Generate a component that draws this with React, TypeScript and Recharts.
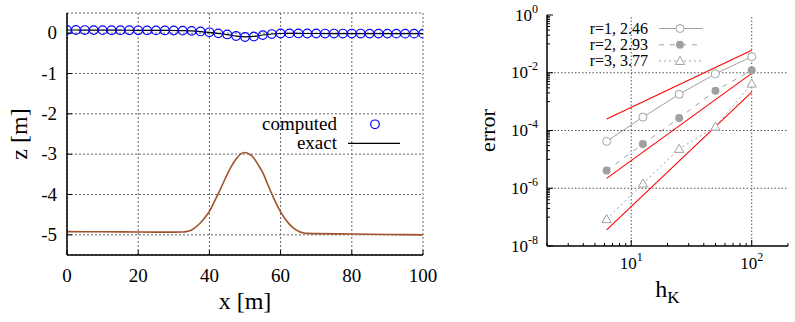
import React from "react";
import {
  ComposedChart,
  Line,
  XAxis,
  YAxis,
  CartesianGrid,
  ReferenceLine,
  Legend,
  Label,
} from "recharts";

const FONT = '"Liberation Serif", "DejaVu Serif", serif';

// ---- left panel: free surface (computed / exact) and the bed over the bump
const surfX = [
  0, 2.5, 5, 7.5, 10, 12.5, 15, 17.5, 20, 22.5, 25, 27.5, 30, 32.5, 35, 37.5,
  40, 42.5, 45, 47.5, 50, 52.5, 55, 57.5, 60, 62.5, 65, 67.5, 70, 72.5, 75,
  77.5, 80, 82.5, 85, 87.5, 90, 92.5, 95, 97.5, 100,
];
const surfComputed = [
  0.08, 0.078, 0.077, 0.076, 0.075, 0.074, 0.073, 0.072, 0.071, 0.07, 0.069,
  0.068, 0.066, 0.063, 0.057, 0.042, 0.022, -0.005, -0.032, -0.07, -0.095,
  -0.082, -0.048, -0.022, -0.008, -0.006, -0.007, -0.008, -0.008, -0.009,
  -0.009, -0.01, -0.01, -0.01, -0.011, -0.011, -0.011, -0.012, -0.012, -0.012,
  -0.012,
];
const surfExact = [
  0.079, 0.078, 0.077, 0.076, 0.075, 0.074, 0.073, 0.072, 0.071, 0.07, 0.069,
  0.068, 0.066, 0.062, 0.055, 0.04, 0.02, -0.007, -0.035, -0.072, -0.092,
  -0.08, -0.046, -0.02, -0.008, -0.006, -0.007, -0.008, -0.008, -0.009,
  -0.009, -0.01, -0.01, -0.01, -0.011, -0.011, -0.011, -0.012, -0.012, -0.012,
  -0.012,
];
const bedX = [
  0, 10, 20, 30, 32.5, 33.75, 35, 36.25, 37.5, 38.75, 40, 41.25, 42.5, 43.75,
  45, 46.25, 47.5, 48.75, 50, 51.25, 52.5, 53.75, 55, 56.25, 57.5, 58.75, 60,
  61.25, 62.5, 63.75, 65, 66.25, 67.5, 70, 80, 90, 100,
];
const bedZ = [
  -4.92, -4.925, -4.93, -4.933, -4.93, -4.915, -4.88, -4.8, -4.7, -4.57, -4.42,
  -4.2, -3.98, -3.74, -3.5, -3.29, -3.12, -3.0, -2.96, -3.0, -3.1, -3.27,
  -3.46, -3.72, -3.98, -4.22, -4.43, -4.6, -4.74, -4.84, -4.91, -4.95, -4.965,
  -4.97, -4.98, -4.99, -5.0,
];
const xTicksL = [0, 20, 40, 60, 80, 100];
const zTicks = [-5, -4, -3, -2, -1, 0];

// ---- right panel: convergence of the error
const hK = [6.25, 12.5, 25, 50, 100];
const errR1 = [4.2e-5, 2.9e-4, 1.8e-3, 9.2e-3, 3.6e-2];
const errR2 = [4.1e-6, 3.4e-5, 2.7e-4, 2.4e-3, 1.22e-2];
const errR3 = [8.5e-8, 1.45e-6, 2.3e-5, 1.35e-4, 4.2e-3];
const refH = [6.25, 100];
const refSlope2 = [2.5e-4, 6.0e-2];
const refSlope3 = [2.2e-6, 9.5e-3];
const refSlope4 = [3.6e-8, 2.15e-3];
const legendR = ["r=1, 2.46", "r=2, 2.93", "r=3, 3.77"];

const hMajor = [10, 100];
const hMinor = [2, 3, 4, 5, 6, 7, 8, 9, 20, 30, 40, 50, 60, 70, 80, 90, 200];
const eMajor = [1e-8, 1e-6, 1e-4, 1e-2, 1];
const eMinorBase = [1e-7, 1e-5, 1e-3, 1e-1];
const hTicks = [...hMinor, ...hMajor].sort((a, b) => a - b);
const eTicks = [
  ...eMajor,
  ...eMinorBase.flatMap((b) => [1, 2, 3, 4, 5, 6, 7, 8, 9].map((m) => b * m)),
].sort((a, b) => a - b);

const surfRows = surfX.map((x, i) => ({
  x,
  computed: surfComputed[i],
  exact: surfExact[i],
}));
const bedRows = bedX.map((x, i) => ({ x, bed: bedZ[i] }));
const errRows = hK.map((h, i) => ({ h, e1: errR1[i], e2: errR2[i], e3: errR3[i] }));
const refRows = (vals: number[]) => refH.map((h, i) => ({ h, e: vals[i] }));

const GRAY = "#a0a0a0";
const RED = "#ff0000";

type Side = "bottom" | "left" | "top" | "right";
interface TickOpts {
  side: Side;
  majors?: number[];
  len?: number;
  minorLen?: number;
  fontSize?: number;
  gap?: number;
  drop?: number;
  fmt?: (v: number) => React.ReactNode;
}

function makeTick(o: TickOpts) {
  const len = o.len ?? 6;
  const minorLen = o.minorLen ?? 3;
  return function AxisTick(props: any) {
    const { x, y, payload } = props;
    const v = payload.value as number;
    const major = !o.majors || o.majors.includes(v);
    const l = major ? len : minorLen;
    let line: React.ReactNode = null;
    let label: React.ReactNode = null;
    const txt = {
      fontFamily: FONT,
      fontSize: o.fontSize ?? 17,
      fill: "#000",
    };
    if (o.side === "bottom") {
      line = <line x1={x} x2={x} y1={y} y2={y - l} stroke="#000" />;
      if (o.fmt && major)
        label = (
          <text x={x} y={y + (o.gap ?? 24)} textAnchor="middle" {...txt}>
            {o.fmt(v)}
          </text>
        );
    } else if (o.side === "top") {
      line = <line x1={x} x2={x} y1={y} y2={y + l} stroke="#000" />;
    } else if (o.side === "left") {
      line = <line x1={x} x2={x + l} y1={y} y2={y} stroke="#000" />;
      if (o.fmt && major)
        label = (
          <text x={x - (o.gap ?? 9)} y={y + (o.drop ?? 6)} textAnchor="end" {...txt}>
            {o.fmt(v)}
          </text>
        );
    } else {
      line = <line x1={x} x2={x - l} y1={y} y2={y} stroke="#000" />;
    }
    return (
      <g>
        {line}
        {label}
      </g>
    );
  };
}

const pow10 = (v: number) => {
  const k = Math.round(Math.log10(v));
  return (
    <>
      10
      <tspan dy={-8} fontSize={12}>
        {k}
      </tspan>
    </>
  );
};

function LeftKey() {
  const t = { fontFamily: FONT, fontSize: 19, fill: "#000" };
  return (
    <svg width={160} height={45} style={{ display: "block" }}>
      <text x={87} y={20} textAnchor="end" {...t}>
        computed
      </text>
      <circle cx={125} cy={14.3} r={4.3} stroke="#0000ff" strokeWidth={1.2} fill="none" />
      <text x={87} y={39} textAnchor="end" {...t}>
        exact
      </text>
      <line x1={98} x2={150} y1={33.3} y2={33.3} stroke="#000" strokeWidth={1.2} />
    </svg>
  );
}

function RightKey() {
  const t = { fontFamily: FONT, fontSize: 16, fill: "#000" };
  const rows = [13.5, 29.8, 46];
  return (
    <svg width={160} height={60} style={{ display: "block" }}>
      {legendR.map((s, i) => (
        <g key={s}>
          <text x={88} y={rows[i] + 5} textAnchor="end" {...t}>
            {s}
          </text>
          <line
            x1={99}
            x2={143}
            y1={rows[i]}
            y2={rows[i]}
            stroke={GRAY}
            strokeDasharray={i === 0 ? undefined : i === 1 ? "5 6" : "2 3"}
          />
          {i === 0 && <circle cx={120} cy={rows[i]} r={4} stroke={GRAY} fill="#fff" />}
          {i === 1 && <circle cx={120} cy={rows[i]} r={4} fill={GRAY} />}
          {i === 2 && <Tri cx={120} cy={rows[i]} />}
        </g>
      ))}
    </svg>
  );
}

function Tri({ cx, cy }: { cx: number; cy: number }) {
  const s = 4.6;
  return (
    <path
      d={`M${cx},${cy - s} L${cx + s},${cy + s * 0.75} L${cx - s},${cy + s * 0.75} Z`}
      stroke={GRAY}
      fill="#fff"
      strokeWidth={1}
    />
  );
}

function LeftPanel() {
  return (
    <ComposedChart
      width={440}
      height={322}
      data={surfRows}
      margin={{ top: 13, right: 17, bottom: 0, left: 0 }}
    >
      <CartesianGrid stroke="#666" strokeDasharray="2 2" />
      <XAxis
        dataKey="x"
        type="number"
        domain={[0, 100]}
        ticks={xTicksL}
        interval={0}
        height={67}
        allowDataOverflow
        stroke="#000"
        strokeWidth={1.5}
        tickSize={0}
        tickMargin={0}
        tickLine={false}
        tick={makeTick({ side: "bottom", fontSize: 19, gap: 27, len: 5, fmt: (v) => String(v) })}
      >
        <Label
          content={({ viewBox }: any) => {
            const vb = viewBox || { x: 67, width: 356 };
            return (
              <text
                x={vb.x + vb.width / 2}
                y={308.5}
                textAnchor="middle"
                fontFamily={FONT}
                fontSize={24}
              >
                x [m]
              </text>
            );
          }}
        />
      </XAxis>
      <XAxis
        xAxisId="top"
        orientation="top"
        type="number"
        domain={[0, 100]}
        ticks={xTicksL}
        interval={0}
        height={0}
        allowDataOverflow
        stroke="#000"
        strokeWidth={1.5}
        tickSize={0}
        tickMargin={0}
        tickLine={false}
        tick={makeTick({ side: "top", len: 5 })}
      />
      <YAxis
        type="number"
        domain={[-5.5, 0.5]}
        ticks={zTicks}
        interval={0}
        width={67}
        allowDataOverflow
        stroke="#000"
        strokeWidth={1.5}
        tickSize={0}
        tickMargin={0}
        tickLine={false}
        tick={makeTick({ side: "left", fontSize: 19, gap: 10, drop: 6, len: 5, fmt: (v) => String(v) })}
      >
        <Label
          content={({ viewBox }: any) => {
            const vb = viewBox || { y: 13, height: 242 };
            const cy = vb.y + vb.height / 2;
            return (
              <text
                x={19}
                y={cy}
                transform={`rotate(-90 19 ${cy})`}
                textAnchor="middle"
                dominantBaseline="central"
                fontFamily={FONT}
                fontSize={24}
              >
                z [m]
              </text>
            );
          }}
        />
      </YAxis>
      <YAxis
        yAxisId="right"
        orientation="right"
        type="number"
        domain={[-5.5, 0.5]}
        ticks={zTicks}
        interval={0}
        width={0}
        allowDataOverflow
        stroke="#000"
        strokeWidth={1.5}
        tickSize={0}
        tickMargin={0}
        tickLine={false}
        tick={makeTick({ side: "right", len: 5 })}
      />
      <Line
        data={bedRows}
        dataKey="bed"
        type="monotone"
        stroke="#a0522d"
        strokeWidth={1.6}
        dot={false}
        isAnimationActive={false}
      />
      <Line
        dataKey="exact"
        type="monotone"
        stroke="#000"
        strokeWidth={1.2}
        dot={false}
        isAnimationActive={false}
      />
      <Line
        dataKey="computed"
        stroke="none"
        dot={{ r: 4.3, stroke: "#0000ff", strokeWidth: 1.2, fill: "none" }}
        isAnimationActive={false}
      />
      <Legend
        layout="horizontal"
        verticalAlign="middle"
        align="center"
        wrapperStyle={{ position: "absolute", left: 250, top: 110, width: 160, height: 45 }}
        content={() => <LeftKey />}
      />
    </ComposedChart>
  );
}

function RightPanel() {
  const dotOpen = (p: any) => (
    <circle key={`c1-${p.index}`} cx={p.cx} cy={p.cy} r={4} stroke={GRAY} fill="#fff" />
  );
  const dotFilled = (p: any) => (
    <circle key={`c2-${p.index}`} cx={p.cx} cy={p.cy} r={4} fill={GRAY} />
  );
  const dotTri = (p: any) => <Tri key={`t-${p.index}`} cx={p.cx} cy={p.cy} />;
  const axisCommon = {
    stroke: "#000",
    strokeWidth: 1.5,
    tickSize: 0,
    tickMargin: 0,
    tickLine: false,
    interval: 0 as const,
    allowDataOverflow: true,
  };
  return (
    <ComposedChart
      width={335}
      height={322}
      data={errRows}
      margin={{ top: 15, right: 7, bottom: 0, left: 0 }}
    >
      {hMajor.map((h) => (
        <ReferenceLine key={`vx${h}`} x={h} stroke="#555" strokeDasharray="1.5 2" />
      ))}
      {[1e-6, 1e-4, 1e-2].map((e) => (
        <ReferenceLine key={`hy${e}`} y={e} stroke="#555" strokeDasharray="1.5 2" />
      ))}
      <XAxis
        dataKey="h"
        type="number"
        scale="log"
        domain={[2, 200]}
        ticks={hTicks}
        height={76}
        {...axisCommon}
        tick={makeTick({ side: "bottom", majors: hMajor, fontSize: 17, gap: 23, fmt: pow10 })}
      >
        <Label
          content={({ viewBox }: any) => {
            const vb = viewBox || { x: 87, width: 241 };
            return (
              <text
                x={vb.x + vb.width / 2}
                y={297}
                textAnchor="middle"
                fontFamily={FONT}
                fontSize={24}
              >
                h
                <tspan dy={6} fontSize={17}>
                  K
                </tspan>
              </text>
            );
          }}
        />
      </XAxis>
      <XAxis
        xAxisId="top"
        orientation="top"
        type="number"
        scale="log"
        domain={[2, 200]}
        ticks={hTicks}
        height={0}
        {...axisCommon}
        tick={makeTick({ side: "top", majors: hMajor })}
      />
      <YAxis
        type="number"
        scale="log"
        domain={[1e-8, 1]}
        ticks={eTicks}
        width={87}
        {...axisCommon}
        tick={makeTick({ side: "left", majors: eMajor, fontSize: 17, gap: 9, drop: 5.5, fmt: pow10 })}
      >
        <Label
          content={({ viewBox }: any) => {
            const vb = viewBox || { y: 15, height: 231 };
            const cy = vb.y + vb.height / 2;
            return (
              <text
                x={27}
                y={cy}
                transform={`rotate(-90 27 ${cy})`}
                textAnchor="middle"
                dominantBaseline="central"
                fontFamily={FONT}
                fontSize={22}
              >
                error
              </text>
            );
          }}
        />
      </YAxis>
      <YAxis
        yAxisId="right"
        orientation="right"
        type="number"
        scale="log"
        domain={[1e-8, 1]}
        ticks={eTicks}
        width={0}
        {...axisCommon}
        tick={makeTick({ side: "right", majors: eMajor })}
      />
      <Line data={refRows(refSlope2)} dataKey="e" stroke={RED} strokeWidth={1.1} dot={false} isAnimationActive={false} />
      <Line data={refRows(refSlope3)} dataKey="e" stroke={RED} strokeWidth={1.1} dot={false} isAnimationActive={false} />
      <Line data={refRows(refSlope4)} dataKey="e" stroke={RED} strokeWidth={1.1} dot={false} isAnimationActive={false} />
      <Line dataKey="e1" stroke={GRAY} strokeWidth={1} dot={dotOpen} isAnimationActive={false} />
      <Line dataKey="e2" stroke={GRAY} strokeWidth={1} strokeDasharray="5 6" dot={dotFilled} isAnimationActive={false} />
      <Line dataKey="e3" stroke={GRAY} strokeWidth={1} strokeDasharray="2 3" dot={dotTri} isAnimationActive={false} />
      <Legend
        layout="horizontal"
        verticalAlign="middle"
        align="center"
        wrapperStyle={{ position: "absolute", left: 100, top: 15, width: 160, height: 60 }}
        content={() => <RightKey />}
      />
    </ComposedChart>
  );
}

export default function App() {
  return (
    <div
      style={{
        position: "absolute",
        left: 0,
        top: 0,
        width: 795,
        height: 322,
        background: "#fff",
      }}
    >
      <div style={{ position: "absolute", left: 0, top: 0 }}>
        <LeftPanel />
      </div>
      <div style={{ position: "absolute", left: 460, top: 0 }}>
        <RightPanel />
      </div>
    </div>
  );
}
